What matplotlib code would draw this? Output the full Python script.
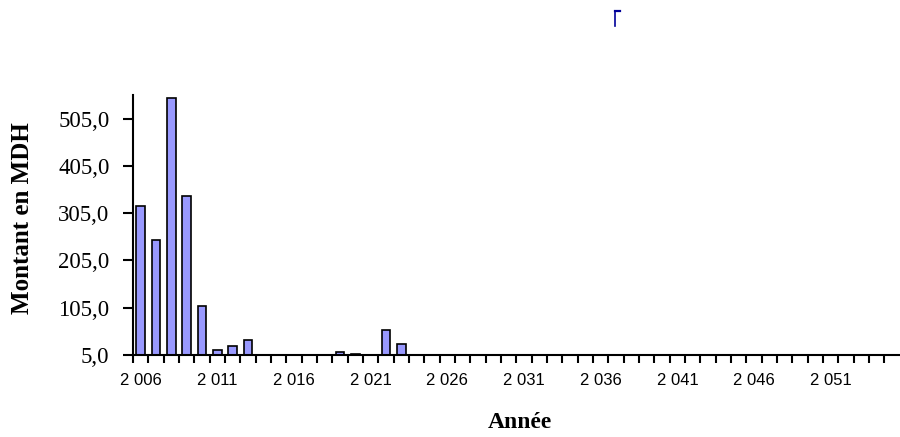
import matplotlib.pyplot as plt
from matplotlib.lines import Line2D
import numpy as np

# Montant en MDH par année (0 = pas de barre)
years = list(range(2006, 2056))
amounts = [320, 248, 548, 341, 109, 16, 24, 37, 0, 0,
           0, 0, 0, 11, 7, 0, 58, 28] + [0] * 32
y_ticks = [5, 105, 205, 305, 405, 505]
y_labels = ["5,0", "105,0", "205,0", "305,0", "405,0", "505,0"]
x_label_years = list(range(2006, 2056, 5))

BASE = 5
SERIF = ["Liberation Serif", "DejaVu Serif"]
SANS = ["Liberation Sans", "DejaVu Sans"]


def main() -> None:
    fig = plt.figure(figsize=(9, 4.37), dpi=100)
    ax = fig.add_axes([0.1478, 0.1876, 0.852, 0.595])

    idx = np.arange(len(years))
    heights = [max(a - BASE, 0) for a in amounts]
    shown = [i for i, h in zip(idx, heights) if h > 0]
    ax.bar(shown, [heights[i] for i in shown], bottom=BASE, width=0.55,
           color="#9999ff", edgecolor="black", linewidth=1.2, zorder=2)

    ax.set_xlim(-0.5, len(years) - 0.5)
    ax.set_ylim(BASE, 555)

    ax.set_yticks(y_ticks)
    ax.set_yticklabels(y_labels, family=SERIF, fontsize=16.5)
    ax.set_xticks(idx - 0.5, minor=True)
    ax.set_xticks([years.index(y) for y in x_label_years])
    ax.set_xticklabels([f"{y // 1000} {y % 1000:03d}" for y in x_label_years],
                       family=SANS, fontsize=12)

    ax.tick_params(axis="x", which="major", length=0, pad=13)
    ax.tick_params(axis="x", which="minor", length=6, width=1.5, direction="out")
    ax.tick_params(axis="y", length=7, width=1.5, direction="out", pad=10)

    for side in ("top", "right"):
        ax.spines[side].set_visible(False)
    for side in ("left", "bottom"):
        ax.spines[side].set_linewidth(1.5)

    ax.set_ylabel("Montant en MDH", family=SERIF, fontsize=18,
                  fontweight="bold")
    ax.yaxis.set_label_coords(-0.129, 0.525)
    fig.text(0.578, 0.033, "Année", family=SERIF, fontsize=17,
             fontweight="bold", ha="center", va="center")

    # petite marque bleue en haut
    fig.add_artist(Line2D([615 / 900, 615 / 900], [1 - 26 / 437, 1 - 11 / 437],
                          color="#000099", linewidth=1.2))
    fig.add_artist(Line2D([615 / 900, 620 / 900], [1 - 11 / 437, 1 - 11 / 437],
                          color="#000099", linewidth=1.6))

    fig.savefig("out.png", dpi=100)


if __name__ == "__main__":
    main()
